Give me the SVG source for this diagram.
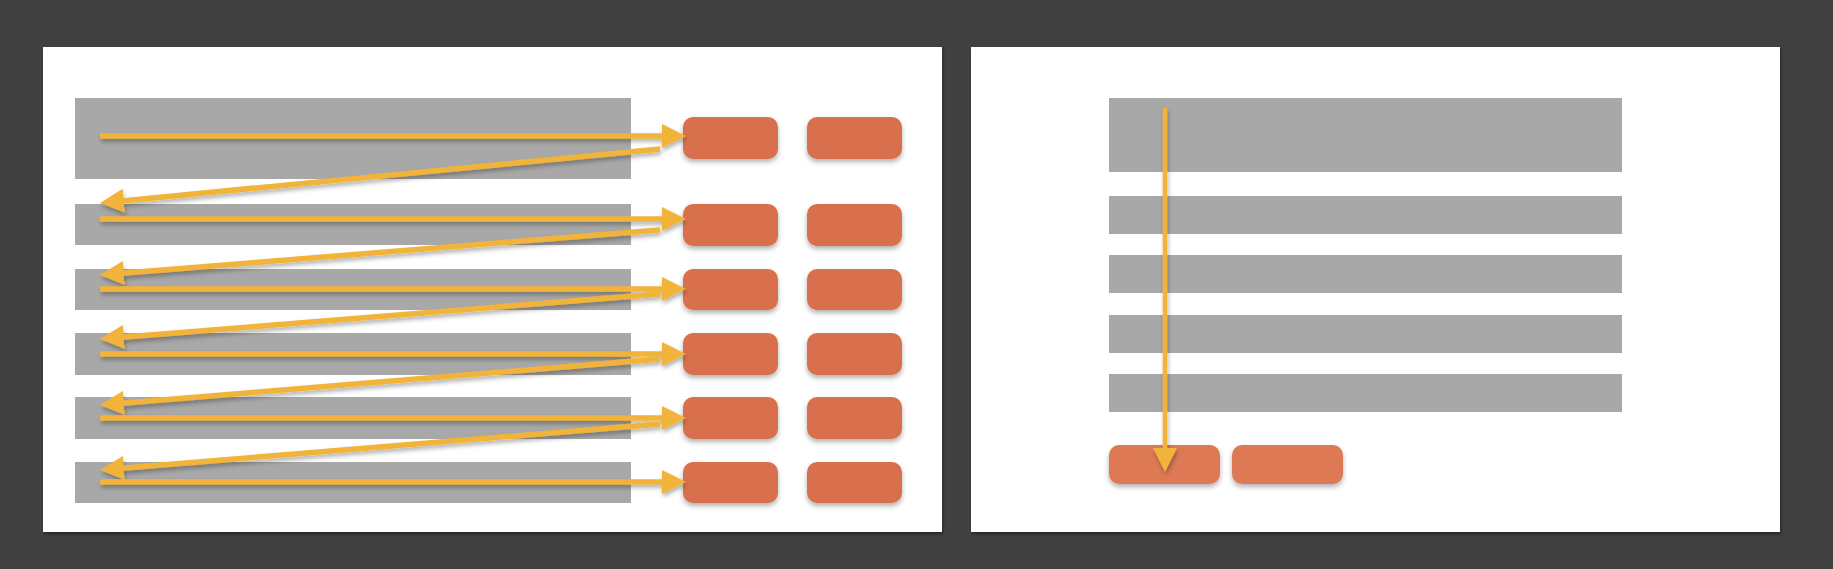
<svg xmlns="http://www.w3.org/2000/svg" width="1833" height="569" viewBox="0 0 1833 569">
<style>
.panel{fill:#ffffff;filter:url(#pshadow)}
.bar{fill:#a8a8a8}
.btn{fill:#d9704d;filter:url(#bshadow)}
.btn2{fill:#dd7a55;filter:url(#bshadow)}
.arr{stroke:#f2b33b;stroke-width:5.5;fill:none;marker-end:url(#head)}
.arrv{stroke:#f2b33b;stroke-width:4.5;fill:none;marker-end:url(#head)}
</style>
<defs>
<filter id="pshadow" x="-5%" y="-5%" width="110%" height="110%"><feDropShadow dx="1" dy="2" stdDeviation="1.5" flood-color="#000" flood-opacity="0.4"/></filter>
<filter id="bshadow" x="-20%" y="-20%" width="140%" height="160%"><feDropShadow dx="0" dy="3" stdDeviation="2.5" flood-color="#000" flood-opacity="0.3"/></filter>
<filter id="ashadow" x="-5%" y="-20%" width="110%" height="160%"><feDropShadow dx="1" dy="3" stdDeviation="2" flood-color="#000" flood-opacity="0.3"/></filter>
<marker id="head" viewBox="0 0 24 24" refX="2" refY="12" markerWidth="24" markerHeight="24" markerUnits="userSpaceOnUse" orient="auto"><path d="M0,0 L24,12 L0,24 z" fill="#f2b33b"/></marker>
</defs>
<rect x="0" y="0" width="1833" height="569" fill="#404040"/>
<g id="panel-left">
<rect class="panel" x="43" y="47" width="899" height="485"/>
</g>
<g id="panel-right">
<rect class="panel" x="971" y="47" width="809" height="485"/>
</g>
<g id="left-bars">
<rect id="lbar1" class="bar" x="75" y="98" width="556" height="81"/>
<rect id="lbar2" class="bar" x="75" y="204" width="556" height="41"/>
<rect id="lbar3" class="bar" x="75" y="269" width="556" height="41"/>
<rect id="lbar4" class="bar" x="75" y="333" width="556" height="42"/>
<rect id="lbar5" class="bar" x="75" y="397" width="556" height="42"/>
<rect id="lbar6" class="bar" x="75" y="462" width="556" height="41"/>
</g>
<g id="left-buttons">
<rect id="lb1a" class="btn" x="683" y="117" width="95" height="42" rx="10"/>
<rect id="lb1b" class="btn" x="807" y="117" width="95" height="42" rx="10"/>
<rect id="lb2a" class="btn" x="683" y="204" width="95" height="42" rx="10"/>
<rect id="lb2b" class="btn" x="807" y="204" width="95" height="42" rx="10"/>
<rect id="lb3a" class="btn" x="683" y="269" width="95" height="41" rx="10"/>
<rect id="lb3b" class="btn" x="807" y="269" width="95" height="41" rx="10"/>
<rect id="lb4a" class="btn" x="683" y="333" width="95" height="42" rx="10"/>
<rect id="lb4b" class="btn" x="807" y="333" width="95" height="42" rx="10"/>
<rect id="lb5a" class="btn" x="683" y="397" width="95" height="42" rx="10"/>
<rect id="lb5b" class="btn" x="807" y="397" width="95" height="42" rx="10"/>
<rect id="lb6a" class="btn" x="683" y="462" width="95" height="41" rx="10"/>
<rect id="lb6b" class="btn" x="807" y="462" width="95" height="41" rx="10"/>
</g>
<g id="right-bars">
<rect id="rbar1" class="bar" x="1109" y="98" width="513" height="74"/>
<rect id="rbar2" class="bar" x="1109" y="196" width="513" height="38"/>
<rect id="rbar3" class="bar" x="1109" y="255" width="513" height="38"/>
<rect id="rbar4" class="bar" x="1109" y="315" width="513" height="38"/>
<rect id="rbar5" class="bar" x="1109" y="374" width="513" height="38"/>
</g>
<g id="right-buttons">
<rect id="rb1" class="btn2" x="1109" y="445" width="111" height="39" rx="10"/>
<rect id="rb2" class="btn2" x="1232" y="445" width="111" height="39" rx="10"/>
</g>
<g id="connectors" filter="url(#ashadow)">
<line class="arr" x1="100" y1="136" x2="664" y2="136"/>
<line class="arr" x1="660" y1="149" x2="121.9" y2="200.9"/>
<line class="arr" x1="100" y1="219" x2="664" y2="219"/>
<line class="arr" x1="660" y1="230" x2="121.9" y2="273.2"/>
<line class="arr" x1="100" y1="289" x2="664" y2="289"/>
<line class="arr" x1="660" y1="294" x2="121.9" y2="337.2"/>
<line class="arr" x1="100" y1="354" x2="664" y2="354"/>
<line class="arr" x1="660" y1="359" x2="121.9" y2="403.2"/>
<line class="arr" x1="100" y1="418" x2="664" y2="418"/>
<line class="arr" x1="660" y1="424" x2="121.9" y2="468.2"/>
<line class="arr" x1="100" y1="482" x2="664" y2="482"/>
<line class="arrv" x1="1165" y1="108" x2="1165" y2="450"/>
</g>
</svg>
